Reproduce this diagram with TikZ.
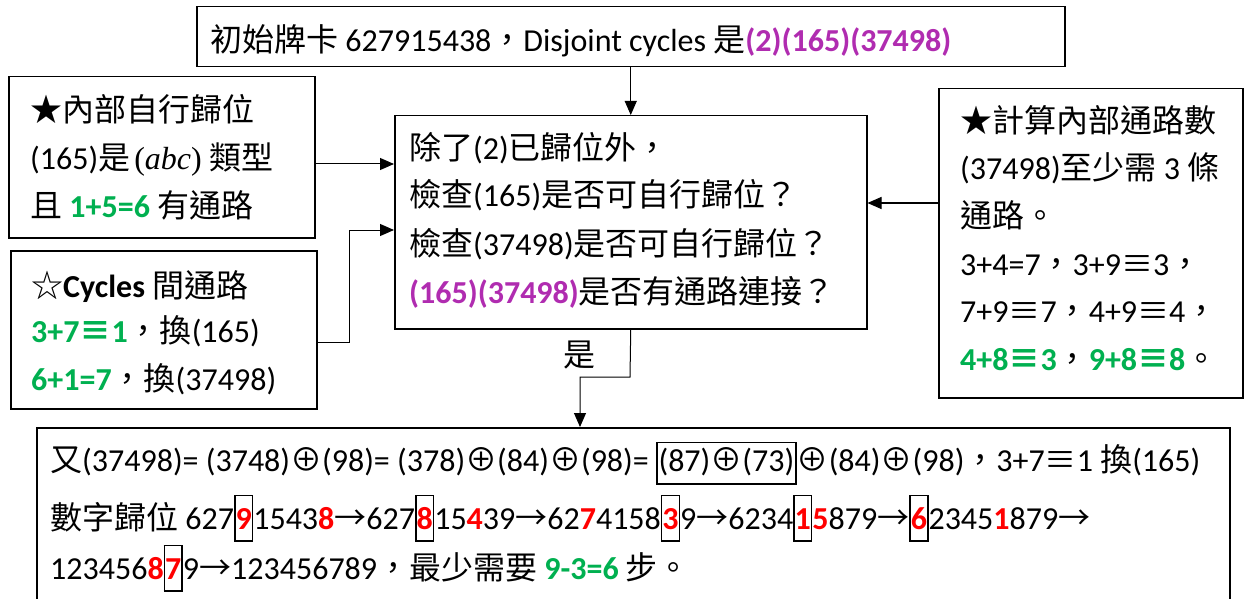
\documentclass[tikz,border=0pt]{standalone}
\usepackage{fontspec}
\setmainfont{Carlito}
\newfontfamily\cjk{Noto Sans CJK TC}
\newfontfamily\tms{Liberation Serif}
\usetikzlibrary{arrows.meta}
\definecolor{pur}{RGB}{176,44,176}
\definecolor{grn}{RGB}{0,176,80}
\definecolor{rd}{RGB}{255,0,0}
\newcommand\cj[1]{{\cjk #1}}
\newcommand\gr[1]{{\color{grn}\bfseries #1}}
\newcommand\pu[1]{{\color{pur}\bfseries #1}}
\newcommand\rb[1]{{\color{rd}\bfseries #1}}
\newcommand\dbx[1]{{\fboxsep=0pt\fboxrule=1.5pt\fbox{\rule[-11pt]{0pt}{44pt}#1}}}
\newcommand\wbx[1]{{\fboxsep=1pt\fboxrule=1.5pt\fbox{\rule[-11pt]{0pt}{38pt}#1}}}
\begin{document}
\begin{tikzpicture}[x=1pt,y=-1pt,
  box/.style={draw, line width=1.5pt, inner sep=0pt, anchor=north west},
  txt/.style={anchor=base west, inner sep=0pt, font=\fontsize{32}{48}\selectfont},
  arr/.style={-{Triangle[length=14pt,width=12pt]}, line width=1pt}]
\clip (0,0) rectangle (1251,599);
\fill[white] (0,0) rectangle (1251,599);
% boxes
\node[box, minimum width=868pt, minimum height=60pt] (top) at (196,6) {};
\node[box, minimum width=472pt, minimum height=213pt] (ctr) at (394,115) {};
\node[box, minimum width=306pt, minimum height=161pt] (l1) at (8,76) {};
\node[box, minimum width=306pt, minimum height=158pt] (l2) at (10,250) {};
\node[box, minimum width=304pt, minimum height=309pt] (r) at (938,88) {};
\node[box, minimum width=1193pt, minimum height=300pt] (bot) at (36,427) {};
% top text
\node[txt] (t1) at (210,52) {\cj{初始牌卡} 627915438\cj{，}Disjoint cycles \cj{是}\pu{(2)(165)(37498)}};
% center text
\node[txt] (c1) at (409,160) {\cj{除了}(2)\cj{已歸位外，}};
\node[txt] (c2) at (409,207) {\cj{檢查}(165)\cj{是否可自行歸位？}};
\node[txt] (c3) at (409,255) {\cj{檢查}(37498)\cj{是否可自行歸位？}};
\node[txt] (c4) at (409,303) {\pu{(165)(37498)}\cj{是否有通路連接？}};
% left 1
\node[txt] (a1) at (30,122) {\cj{★內部自行歸位}};
\node[txt] (a2) at (30,170) {(165)\cj{是}\hspace{4pt}{\tms(\textit{abc})} \cj{類型}};
\node[txt] (a3) at (30,218) {\cj{且} \gr{1+5=6} \cj{有通路}};
% left 2
\node[txt] (b1) at (31,297) {\cj{☆}\textbf{Cycles} \cj{間通路}};
\node[txt] (b2) at (31,342) {\gr{3+7\cj{≡}1}\cj{，換}(165)};
\node[txt] (b3) at (31,390) {\gr{6+1=7}\cj{，換}(37498)};
% right
\node[txt] (r1) at (960,133) {\cj{★計算內部通路數}};
\node[txt] (r2) at (960,180) {(37498)\cj{至少需} 3 \cj{條}};
\node[txt] (r3) at (960,227) {\cj{通路。}};
\node[txt] (r4) at (960,275) {3+4=7\cj{，}3+9\cj{≡}3\cj{，}};
\node[txt] (r5) at (960,322) {7+9\cj{≡}7\cj{，}4+9\cj{≡}4\cj{，}};
\node[txt] (r6) at (960,370) {\gr{4+8\cj{≡}3}\cj{，}\gr{9+8\cj{≡}8}\cj{。}};
% bottom
\node[txt] (d1) at (50,471) {\cj{又}(37498)= (3748)\cj{⊕}(98)= (378)\cj{⊕}(84)\cj{⊕}(98)= \wbx{(87)\cj{⊕}(73)}\cj{⊕}(84)\cj{⊕}(98)\cj{，}3+7\cj{≡}1 \cj{換}(165)};
\node[txt] (d2) at (50,529) {\cj{數字歸位} 627\dbx{\rb{9}}1543\rb{8}\cj{→}627\dbx{\rb{8}}15\rb{4}39\cj{→}62\rb{7}4158\dbx{\rb{3}}9\cj{→}6234\dbx{\rb{1}}\rb{5}879\cj{→}\dbx{\rb{6}}2345\rb{1}879\cj{→}};
\node[txt] (d3) at (50,579) {123456\rb{8}\dbx{\rb{7}}9\cj{→}123456789\cj{，最少需要} \gr{9-3=6} \cj{步。}};
% label
\node[inner sep=0pt, font=\fontsize{32}{48}\selectfont] (yes) at (579,355) {\cj{是}};
% connectors
\coordinate (k) at (349,230);
\coordinate (m1) at (630,377);
\coordinate (m2) at (580,377);
\draw[arr] (top.south) -- (ctr.north);
\draw[arr] (l1.east |- 0,164) -- (ctr.west |- 0,164);
\draw[arr] (l2.east |- 0,342) -| (k) -- (ctr.west |- k);
\draw[arr] (r.west |- 0,203) -- (ctr.east |- 0,203);
\draw[arr] (ctr.south) -- (m1) -- (m2) -- (bot.north -| m2);
\end{tikzpicture}
\end{document}
